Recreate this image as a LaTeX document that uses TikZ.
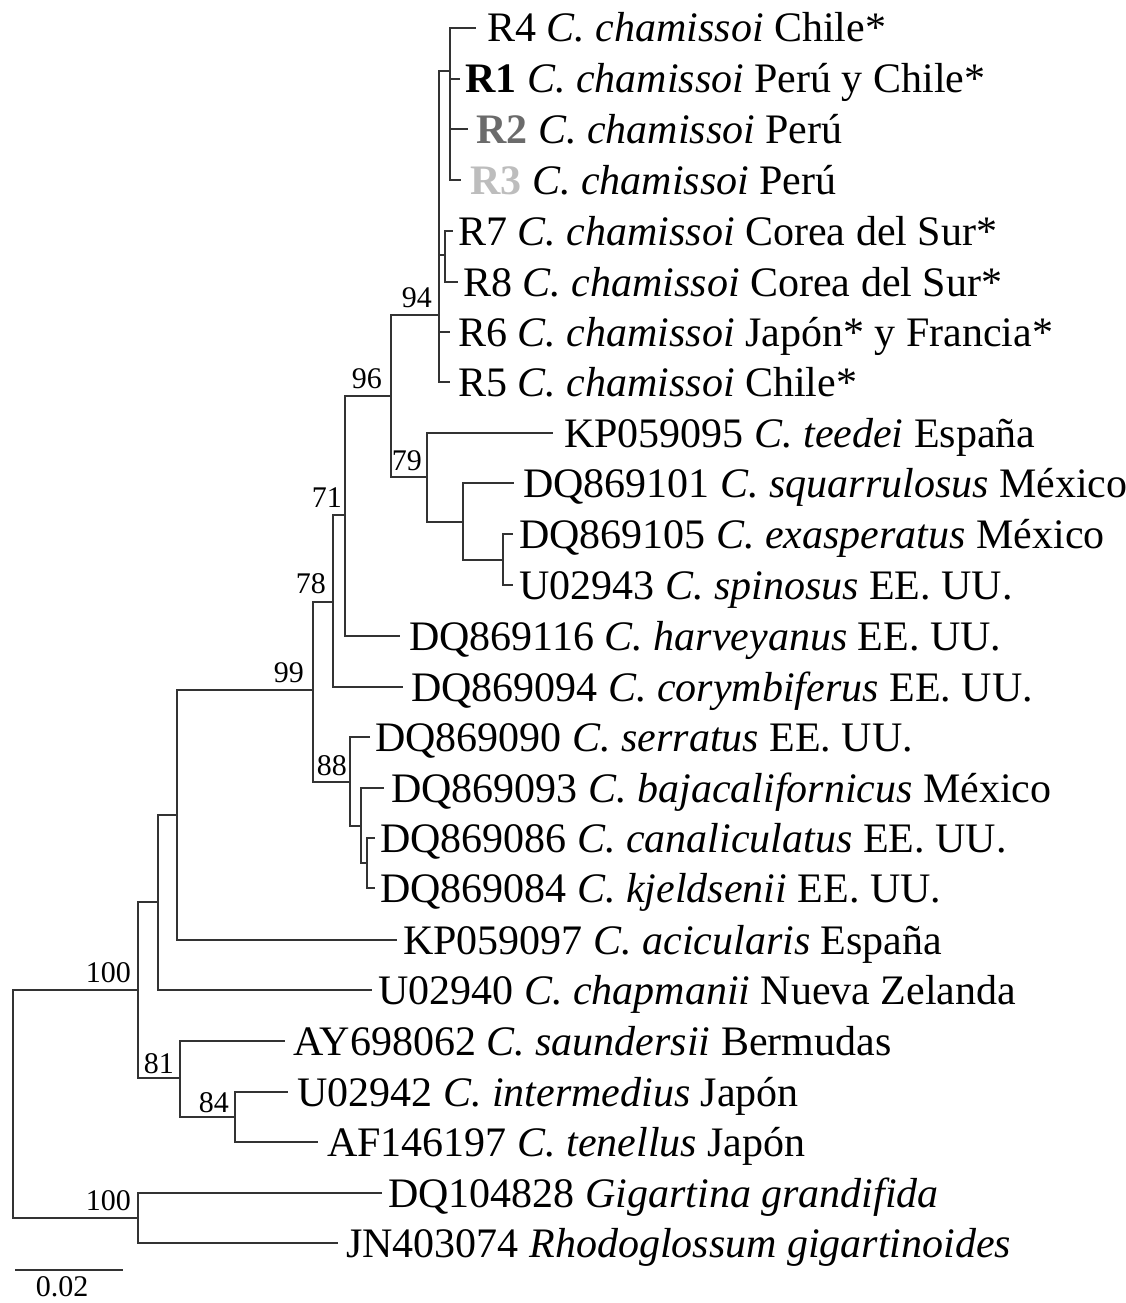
\documentclass[tikz,border=0pt]{standalone}
\usepackage{fontspec}
\setmainfont{Liberation Serif}
\definecolor{rtwo}{gray}{0.42}
\definecolor{rthree}{gray}{0.74}
\begin{document}
\begin{tikzpicture}[x=1pt,y=-1pt,
  br/.style={draw=black!80, line width=2pt},
  leaf/.style={anchor=base west, inner sep=0pt, font=\fontsize{42}{50}\selectfont},
  boot/.style={anchor=base east, inner sep=0pt, font=\fontsize{30}{36}\selectfont},
]
\useasboundingbox (0,0) rectangle (1126,1303);
% internal nodes
\coordinate (root) at (13,1104);
\coordinate (ing) at (138,990);
\coordinate (nA) at (158,902);
\coordinate (nB) at (177,815);
\coordinate (n99) at (313,690);
\coordinate (n78) at (333,602);
\coordinate (n71) at (345,515);
\coordinate (n96) at (391,396);
\coordinate (n94) at (439,315);
\coordinate (nC) at (450,71);
\coordinate (nD) at (445,255);
\coordinate (n79) at (427,477);
\coordinate (nE) at (463,522);
\coordinate (nF) at (503,560);
\coordinate (n88) at (350,782);
\coordinate (nG) at (361,826);
\coordinate (nH) at (367,863);
\coordinate (n81) at (180,1078);
\coordinate (n84) at (235,1117);
\coordinate (out) at (138,1218);
% leaf ends
\coordinate (lR4) at (476,28);
\coordinate (lR1) at (460,79);
\coordinate (lR2) at (468,129);
\coordinate (lR3) at (461,180);
\coordinate (lR7) at (453,231);
\coordinate (lR8) at (458,282);
\coordinate (lR6) at (450,332);
\coordinate (lR5) at (450,382);
\coordinate (lKPa) at (553,433);
\coordinate (lDQa) at (514,483);
\coordinate (lDQb) at (513,534);
\coordinate (lUa) at (513,585);
\coordinate (lDQc) at (400,636);
\coordinate (lDQd) at (403,687);
\coordinate (lDQe) at (370,737);
\coordinate (lDQf) at (384,788);
\coordinate (lDQg) at (375,838);
\coordinate (lDQh) at (375,888);
\coordinate (lKPb) at (397,940);
\coordinate (lUb) at (372,990);
\coordinate (lAY) at (285,1041);
\coordinate (lUc) at (288,1092);
\coordinate (lAF) at (318,1142);
\coordinate (lDQi) at (382,1193);
\coordinate (lJN) at (338,1243);
% branches
\draw[br] (root) |- (ing);
\draw[br] (root) |- (out);
\draw[br] (ing) |- (nA);
\draw[br] (ing) |- (n81);
\draw[br] (nA) |- (nB);
\draw[br] (nA) |- (lUb);
\draw[br] (nB) |- (n99);
\draw[br] (nB) |- (lKPb);
\draw[br] (n99) |- (n78);
\draw[br] (n99) |- (n88);
\draw[br] (n78) |- (n71);
\draw[br] (n78) |- (lDQd);
\draw[br] (n71) |- (n96);
\draw[br] (n71) |- (lDQc);
\draw[br] (n96) |- (n94);
\draw[br] (n96) |- (n79);
\draw[br] (n94) |- (nC);
\draw[br] (n94) |- (nD);
\draw[br] (n94) |- (lR6);
\draw[br] (n94) |- (lR5);
\draw[br] (nC) |- (lR4);
\draw[br] (nC) |- (lR1);
\draw[br] (nC) |- (lR2);
\draw[br] (nC) |- (lR3);
\draw[br] (nD) |- (lR7);
\draw[br] (nD) |- (lR8);
\draw[br] (n79) |- (lKPa);
\draw[br] (n79) |- (nE);
\draw[br] (nE) |- (lDQa);
\draw[br] (nE) |- (nF);
\draw[br] (nF) |- (lDQb);
\draw[br] (nF) |- (lUa);
\draw[br] (n88) |- (lDQe);
\draw[br] (n88) |- (nG);
\draw[br] (nG) |- (lDQf);
\draw[br] (nG) |- (nH);
\draw[br] (nH) |- (lDQg);
\draw[br] (nH) |- (lDQh);
\draw[br] (n81) |- (lAY);
\draw[br] (n81) |- (n84);
\draw[br] (n84) |- (lUc);
\draw[br] (n84) |- (lAF);
\draw[br] (out) |- (lDQi);
\draw[br] (out) |- (lJN);
% leaf labels
\node[leaf] (tR4) at (487,42) {R4 \textit{C. chamissoi} Chile*};
\node[leaf] (tR1) at (465,93) {\textbf{R1} \textit{C. chamissoi} Perú y Chile*};
\node[leaf] (tR2) at (476,143) {\textcolor{rtwo}{\textbf{R2}} \textit{C. chamissoi} Perú};
\node[leaf] (tR3) at (470,194) {\textcolor{rthree}{\textbf{R3}} \textit{C. chamissoi} Perú};
\node[leaf] (tR7) at (458,245) {R7 \textit{C. chamissoi} Corea del Sur*};
\node[leaf] (tR8) at (463,296) {R8 \textit{C. chamissoi} Corea del Sur*};
\node[leaf] (tR6) at (458,346) {R6 \textit{C. chamissoi} Japón* y Francia*};
\node[leaf] (tR5) at (458,396) {R5 \textit{C. chamissoi} Chile*};
\node[leaf] (tKPa) at (564,447) {KP059095 \textit{C. teedei} España};
\node[leaf] (tDQa) at (523,497) {DQ869101 \textit{C. squarrulosus} México};
\node[leaf] (tDQb) at (519,548) {DQ869105 \textit{C. exasperatus} México};
\node[leaf] (tUa) at (519,599) {U02943 \textit{C. spinosus} EE. UU.};
\node[leaf] (tDQc) at (409,650) {DQ869116 \textit{C. harveyanus} EE. UU.};
\node[leaf] (tDQd) at (411,701) {DQ869094 \textit{C. corymbiferus} EE. UU.};
\node[leaf] (tDQe) at (375,751) {DQ869090 \textit{C. serratus} EE. UU.};
\node[leaf] (tDQf) at (391,802) {DQ869093 \textit{C. bajacalifornicus} México};
\node[leaf] (tDQg) at (380,852) {DQ869086 \textit{C. canaliculatus} EE. UU.};
\node[leaf] (tDQh) at (380,902) {DQ869084 \textit{C. kjeldsenii} EE. UU.};
\node[leaf] (tKPb) at (403,954) {KP059097 \textit{C. acicularis} España};
\node[leaf] (tUb) at (378,1004) {U02940 \textit{C. chapmanii} Nueva Zelanda};
\node[leaf] (tAY) at (293,1055) {AY698062 \textit{C. saundersii} Bermudas};
\node[leaf] (tUc) at (297,1106) {U02942 \textit{C. intermedius} Japón};
\node[leaf] (tAF) at (327,1156) {AF146197 \textit{C. tenellus} Japón};
\node[leaf] (tDQi) at (388,1207) {DQ104828 \textit{Gigartina grandifida}};
\node[leaf] (tJN) at (346,1257) {JN403074 \textit{Rhodoglossum gigartinoides}};
% bootstrap values
\node[boot] (b94) at (432,307) {94};
\node[boot] (b96) at (382,388) {96};
\node[boot] (b79) at (422,470) {79};
\node[boot] (b71) at (342,507) {71};
\node[boot] (b78) at (326,593) {78};
\node[boot] (b99) at (304,682) {99};
\node[boot] (b88) at (347,775) {88};
\node[boot] (b100a) at (131,982) {100};
\node[boot] (b81) at (174,1073) {81};
\node[boot] (b84) at (229,1112) {84};
\node[boot] (b100b) at (131,1210) {100};
% scale bar
\coordinate (sb1) at (15,1270);
\coordinate (sb2) at (123,1270);
\draw[br] (sb1) -- (sb2);
\node[anchor=base, inner sep=0pt, font=\fontsize{30}{36}\selectfont] (sbl) at (62,1296) {0.02};
\end{tikzpicture}
\end{document}
